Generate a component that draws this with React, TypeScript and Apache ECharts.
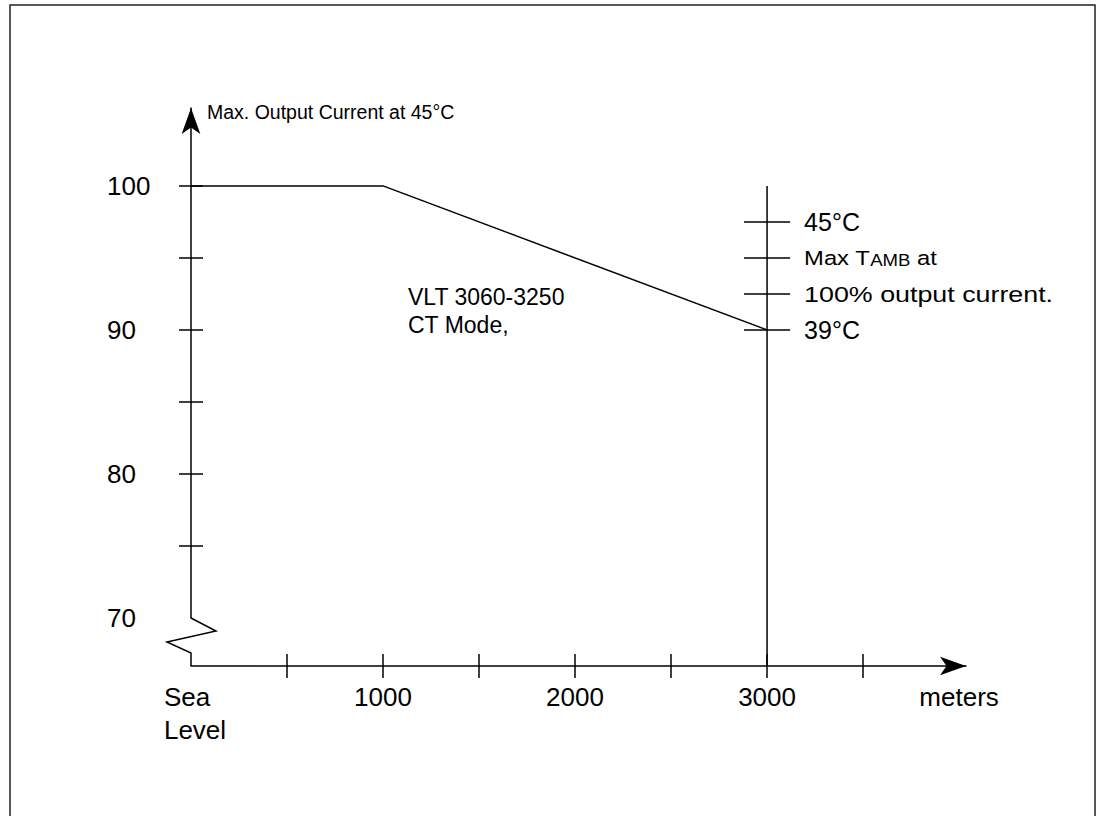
import React, { useEffect, useRef } from "react";
import * as echarts from "echarts";

// Derating curve: altitude (m) vs. max output current (%)
const altitude = [0, 1000, 3000];
const outputCurrent = [100, 100, 90];

// Axis ticks / labels
const xTickValues = [500, 1000, 1500, 2000, 2500, 3000, 3500];
const xLabelValues = [0, 1000, 2000, 3000, 4000];
const yTickValues = [75, 80, 85, 90, 95, 100];
const yLabelValues = [70, 80, 90, 100];

// Temperature scale drawn on the 3000 m line (position in % units)
const tempScaleAltitude = 3000;
const tempScaleTop = 100;
const tempTickLevels = [97.5, 95, 92.5, 90];
const tempTickLabels = ["45°C", "{b|Max T}{s|AMB}{b| at}", "100% output current.", "39°C"];
const tempTickFont = [25, 20.5, 22, 25];
const tempTickStretch = [1, 1.16, 1.22, 1];

// Axis ranges
const xMin = 0;
const xMax = 4036;
const yMin = 70;
const yMax = 105.41;
const xAxisLevel = 66.667; // where the (offset) x-axis line sits, in % units

// broken-axis zigzag (altitude, %)
const breakX = [0, 130, -125, 0, 0];
const breakY = [70, 69.1, 68.34, 67.57, 66.667];

const FONT = "'Liberation Sans', Arial, Helvetica, sans-serif";

export default function App() {
  const ref = useRef<HTMLDivElement>(null);

  useEffect(() => {
    if (!ref.current) return;
    const chart = echarts.init(ref.current, undefined, { renderer: "svg" });

    const tickSpan = 120;
    const tempLines = tempTickLevels.map((lv) => [
      { coord: [tempScaleAltitude - tickSpan, lv] },
      { coord: [tempScaleAltitude + tickSpan, lv] },
    ]);

    const lineStyle = { color: "#000", width: 1.5 };

    const baseGraphics: any[] = [
      {
        type: "rect",
        silent: true,
        shape: { x: 10, y: 5, width: 1085, height: 840 },
        style: { fill: "none", stroke: "#222", lineWidth: 1.5 },
      },
      {
        type: "text",
        left: 408,
        top: 283,
        silent: true,
        style: {
          text: "VLT 3060-3250\nCT Mode,",
          font: `23px ${FONT}`,
          lineHeight: 28,
          fill: "#000",
        },
      },
    ];

    const option: any = {
      animation: false,
      backgroundColor: "#fff",
      textStyle: { fontFamily: FONT, color: "#000" },
      grid: { left: 191, right: 135, top: 108, bottom: 198 },
      xAxis: [
        {
          type: "value",
          position: "bottom",
          min: xMin,
          max: xMax,
          offset: 48,
          splitLine: { show: false },
          axisLine: {
            show: true,
            onZero: false,
            symbol: ["none", "arrow"],
            symbolSize: [14, 26],
            lineStyle,
          },
          axisTick: { show: true, length: 12, customValues: xTickValues, lineStyle },
          axisLabel: {
            show: true,
            customValues: xLabelValues,
            margin: 14,
            fontSize: 26,
            lineHeight: 33,
            color: "#000",
            fontFamily: FONT,
            formatter: (v: number) => {
              if (v === 0) return "{a|Sea}\n{a|Level}";
              if (v === 4000) return "meters";
              return String(v);
            },
            rich: {
              a: { align: "left", padding: [0, 0, 0, 8], fontSize: 26, lineHeight: 33, fontFamily: FONT, color: "#000" },
            },
          },
        },
        {
          type: "value",
          position: "bottom",
          min: xMin,
          max: xMax,
          offset: 48,
          splitLine: { show: false },
          axisLine: { show: false, onZero: false },
          axisTick: { show: true, inside: true, length: 12, customValues: xTickValues, lineStyle },
          axisLabel: { show: false },
        },
      ],
      yAxis: [
        {
          type: "value",
          position: "left",
          min: yMin,
          max: yMax,
          name: "Max. Output Current at 45°C",
          nameLocation: "end",
          nameGap: -4,
          nameTextStyle: {
            align: "left",
            verticalAlign: "middle",
            padding: [0, 0, 0, 16],
            fontSize: 19.5,
            color: "#000",
            fontFamily: FONT,
          },
          splitLine: { show: false },
          axisLine: {
            show: true,
            onZero: false,
            symbol: ["none", "arrow"],
            symbolSize: [14, 26],
            lineStyle,
          },
          axisTick: { show: true, length: 12, customValues: yTickValues, lineStyle },
          axisLabel: {
            show: true,
            customValues: yLabelValues,
            align: "left",
            margin: 84,
            fontSize: 26,
            color: "#000",
            fontFamily: FONT,
          },
        },
        {
          type: "value",
          position: "left",
          min: yMin,
          max: yMax,
          splitLine: { show: false },
          axisLine: { show: false, onZero: false },
          axisTick: { show: true, inside: true, length: 12, customValues: yTickValues, lineStyle },
          axisLabel: { show: false },
        },
      ],
      series: [
        {
          name: "VLT 3060-3250 CT Mode",
          type: "line",
          data: altitude.map((a, i) => [a, outputCurrent[i]]),
          symbol: "none",
          lineStyle,
          silent: true,
        },
        {
          name: "3000 m",
          type: "line",
          data: [
            [tempScaleAltitude, tempScaleTop],
            [tempScaleAltitude, xAxisLevel],
          ],
          clip: false,
          symbol: "none",
          lineStyle,
          silent: true,
          markLine: {
            silent: true,
            symbol: "none",
            label: { show: false },
            lineStyle: { color: "#000", width: 1.5, type: "solid" },
            data: tempLines,
          },
        },
      ],
      graphic: baseGraphics,
    };

    chart.setOption(option);

    const toPx = (x: number, y: number) => chart.convertToPixel({ gridIndex: 0 }, [x, y]) as number[];

    // axis-break zigzag, placed through the grid's own scales
    const pts = breakX.map((x, i) => toPx(x, breakY[i]));

    // temperature annotations next to the ticks on the 3000 m line
    const tempTexts = tempTickLevels.map((lv, i) => {
      const fs = tempTickFont[i];
      const small = Math.round(fs * 0.78);
      return {
        type: "text",
        silent: true,
        x: toPx(tempScaleAltitude + tickSpan, lv)[0] + 14,
        y: toPx(tempScaleAltitude + tickSpan, lv)[1],
        scaleX: tempTickStretch[i],
        style: {
          text: tempTickLabels[i],
          fontFamily: FONT,
          fontSize: fs,
          fill: "#000",
          verticalAlign: "middle",
          align: "left",
          rich: {
            b: { fontSize: fs, lineHeight: fs, verticalAlign: "bottom", fontFamily: FONT, fill: "#000" },
            s: { fontSize: small, lineHeight: small, verticalAlign: "bottom", fontFamily: FONT, fill: "#000" },
          },
        },
      };
    });

    chart.setOption({
      graphic: [
        ...baseGraphics,
        {
          type: "polyline",
          silent: true,
          shape: { points: pts },
          style: { stroke: "#000", lineWidth: 1.5, fill: "none" },
        },
        ...tempTexts,
      ],
    });

    return () => chart.dispose();
  }, []);

  return (
    <div
      ref={ref}
      style={{ position: "absolute", left: 0, top: 0, width: 1101, height: 816, background: "#fff" }}
    />
  );
}
